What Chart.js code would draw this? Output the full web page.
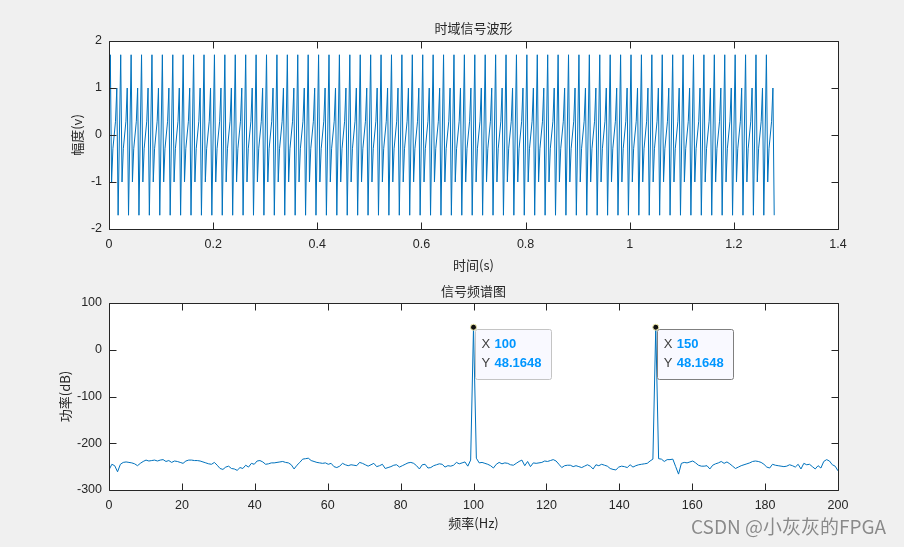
<!DOCTYPE html>
<html>
<head>
<meta charset="utf-8">
<script src="https://cdn.jsdelivr.net/npm/chart.js@4.4.1/dist/chart.umd.min.js"></script>
<style>
  body { margin: 0; background: #f0f0f0; overflow: hidden; }
  #wrap { position: relative; width: 904px; height: 547px; }
  canvas { position: absolute; left: 0; }
  #mark {
    position: absolute; left: 691px; top: 513px;
    font: 19px "Noto Sans CJK SC", sans-serif; color: #8a8a8a;
    text-shadow: 0 0 1px #fff; white-space: nowrap; line-height: 26px;
  }
</style>
</head>
<body>
<div id="wrap">
  <canvas id="tiempo" width="904" height="274" style="top:0"></canvas>
  <canvas id="espectro" width="904" height="273" style="top:274px"></canvas>
  <div id="mark">CSDN @小灰灰的FPGA</div>
</div>
<script>
// datos
const sampleRate = 400;
const sampleCount = 512;
// un periodo (8 muestras = 0.02 s) de la onda, se repite en toda la grafica
const wavePeriod = [0, 1.7071, -1, -0.2929, 0, 0.2929, 1, -1.7071];
const timeTicks = [0, 0.2, 0.4, 0.6, 0.8, 1, 1.2, 1.4];
const ampTicks = [-2, -1, 0, 1, 2];

const freqStep = 400 / 512;
const spectrumDb = [
  -257, -245, -248, -261, -245, -241, -240, -241, -242, -244,
  -248, -243, -239, -236, -238, -237, -236, -238, -236, -235,
  -239, -237, -241, -238, -239, -241, -243, -238, -236, -236,
  -237, -237, -238, -240, -242, -244, -245, -241, -247, -254,
  -256, -251, -249, -254, -255, -258, -252, -254, -247, -251,
  -243, -245, -238, -237, -240, -245, -244, -242, -242, -241,
  -240, -239, -241, -242, -246, -255, -247, -241, -234, -233,
  -232, -237, -239, -241, -242, -243, -242, -245, -243, -250,
  -252, -249, -243, -246, -248, -246, -247, -248, -241, -243,
  -246, -249, -246, -243, -250, -248, -245, -254, -252, -250,
  -247, -246, -251, -248, -245, -242, -241, -243, -248, -255,
  -246, -245, -253, -252, -248, -246, -244, -245, -251, -248,
  -249, -247, -241, -244, -242, -240, -249, -236, 48.1648, -232,
  -242, -241, -243, -245, -248, -253, -245, -241, -244, -242,
  -243, -246, -247, -243, -239, -236, -248, -239, -250, -242,
  -243, -242, -241, -238, -239, -237, -235, -238, -245, -252,
  -248, -247, -247, -250, -248, -250, -252, -249, -246, -249,
  -255, -246, -248, -245, -247, -249, -254, -256, -257, -251,
  -249, -250, -252, -246, -251, -248, -246, -245, -244, -243,
  -238, -234, 48.1648, -233, -234, -239, -235, -235, -234, -250,
  -266, -243, -241, -242, -240, -238, -242, -247, -249, -249,
  -248, -255, -247, -244, -242, -239, -243, -240, -244, -249,
  -254, -251, -248, -246, -244, -242, -239, -238, -239, -241,
  -245, -251, -253, -245, -247, -248, -249, -250, -249, -246,
  -248, -251, -245, -255, -243, -246, -245, -250, -255, -248,
  -253, -239, -235, -238, -246, -249, -259
];
const freqTicks = [0, 20, 40, 60, 80, 100, 120, 140, 160, 180, 200];
const powerTicks = [-300, -200, -100, 0, 100];
const peakFreqs = [100, 150];

const tickFont = { family: '"Liberation Sans", Arial, sans-serif', size: 12.5 };
const labelFont = '13px "Noto Sans CJK SC", sans-serif';
const ink = '#262626';

// marco, ticks hacia dentro y textos como en matlab
const marcoPlugin = {
  id: 'marco',
  beforeDraw(chart) {
    const { ctx, chartArea: a } = chart;
    ctx.save();
    ctx.fillStyle = '#ffffff';
    ctx.fillRect(a.left, a.top, a.right - a.left, a.bottom - a.top);
    ctx.restore();
  },
  afterDraw(chart, args, opts) {
    const { ctx, chartArea: a, scales } = chart;
    const L = a.left + 0.5, R = a.right + 0.5, T = a.top + 0.5, B = a.bottom + 0.5;
    ctx.save();
    ctx.strokeStyle = ink;
    ctx.lineWidth = 1;
    ctx.beginPath();
    scales.x.ticks.forEach(t => {
      const px = Math.round(scales.x.getPixelForValue(t.value)) + 0.5;
      ctx.moveTo(px, B); ctx.lineTo(px, B - 7);
      ctx.moveTo(px, T); ctx.lineTo(px, T + 7);
    });
    scales.y.ticks.forEach(t => {
      const py = Math.round(scales.y.getPixelForValue(t.value)) + 0.5;
      ctx.moveTo(L, py); ctx.lineTo(L + 7, py);
      ctx.moveTo(R, py); ctx.lineTo(R - 7, py);
    });
    ctx.rect(L, T, R - L, B - T);
    ctx.stroke();

    // datatips
    (opts.tips || []).forEach(tip => {
      const px = scales.x.getPixelForValue(tip.x);
      const py = scales.y.getPixelForValue(tip.y);
      const bx = Math.round(px) + 1.5, by = Math.round(py) + 2.5;
      ctx.beginPath();
      ctx.roundRect(bx, by, 76, 50, 2);
      ctx.fillStyle = '#f9f9ff';
      ctx.fill();
      ctx.strokeStyle = tip.border;
      ctx.stroke();

      ctx.beginPath();
      ctx.arc(px, py, 3, 0, Math.PI * 2);
      ctx.fillStyle = '#111';
      ctx.fill();
      ctx.strokeStyle = '#f3eeb0';
      ctx.lineWidth = 1;
      ctx.stroke();

      ctx.textBaseline = 'middle';
      ctx.textAlign = 'left';
      ctx.fillStyle = '#404040';
      ctx.font = '13px "Liberation Sans", Arial, sans-serif';
      ctx.fillText('X', px + 8, py + 17.5);
      ctx.fillText('Y', px + 8, py + 36);
      ctx.fillStyle = '#0096ff';
      ctx.font = 'bold 13px "Liberation Sans", Arial, sans-serif';
      ctx.fillText(String(tip.x), px + 21, py + 17.5);
      ctx.fillText(tip.y.toFixed(4), px + 21, py + 36);
    });

    // titulos
    ctx.fillStyle = ink;
    ctx.font = labelFont;
    ctx.textAlign = 'center';
    ctx.textBaseline = 'middle';
    const cx = (a.left + a.right) / 2;
    ctx.fillText(opts.title, cx, opts.titleY);
    ctx.fillText(opts.xLabel, cx, opts.xLabelY);
    ctx.translate(opts.yLabelX, (a.top + a.bottom) / 2);
    ctx.rotate(-Math.PI / 2);
    ctx.fillText(opts.yLabel, 0, 0);
    ctx.restore();
  }
};

function ejes(xMin, xMax, xTicks, yMin, yMax, yTicks, xHeight) {
  return {
    x: {
      type: 'linear', min: xMin, max: xMax,
      afterBuildTicks: s => { s.ticks = xTicks.map(v => ({ value: v })); },
      afterFit: s => { s.height = xHeight; },
      ticks: { padding: 8, color: ink, font: tickFont, maxRotation: 0, autoSkip: false, callback: v => String(v) },
      grid: { display: false, drawTicks: false },
      border: { display: false }
    },
    y: {
      type: 'linear', min: yMin, max: yMax,
      afterBuildTicks: s => { s.ticks = yTicks.map(v => ({ value: v })); },
      afterFit: s => { s.width = 109; },
      ticks: { padding: 7, color: ink, font: tickFont, autoSkip: false, callback: v => String(v) },
      grid: { display: false, drawTicks: false },
      border: { display: false }
    }
  };
}

// onda en el tiempo
const timeData = [];
for (let n = 0; n < sampleCount; n++) {
  timeData.push({ x: n / sampleRate, y: wavePeriod[n % wavePeriod.length] });
}

new Chart(document.getElementById('tiempo'), {
  type: 'line',
  data: {
    datasets: [{
      data: timeData,
      borderColor: '#0072bd',
      borderWidth: 1,
      pointRadius: 0,
      tension: 0
    }]
  },
  options: {
    responsive: false,
    animation: false,
    layout: { padding: { left: 0, right: 66, top: 41, bottom: 0 } },
    scales: ejes(0, 1.4, timeTicks, -2, 2, ampTicks, 45),
    plugins: {
      legend: { display: false },
      tooltip: { enabled: false },
      marco: { title: '时域信号波形', titleY: 28, xLabel: '时间(s)', xLabelY: 265, yLabel: '幅度(v)', yLabelX: 77 }
    }
  },
  plugins: [marcoPlugin]
});

// espectro
const specData = spectrumDb.map((v, k) => ({ x: k * freqStep, y: v }));
const tips = peakFreqs.map((f, i) => ({
  x: f,
  y: spectrumDb[Math.round(f / freqStep)],
  border: i === 0 ? '#c4c4c4' : '#7f7f7f'
}));

new Chart(document.getElementById('espectro'), {
  type: 'line',
  data: {
    datasets: [{
      data: specData,
      borderColor: '#0072bd',
      borderWidth: 1,
      pointRadius: 0,
      tension: 0
    }]
  },
  options: {
    responsive: false,
    animation: false,
    layout: { padding: { left: 0, right: 66, top: 29, bottom: 0 } },
    scales: ejes(0, 200, freqTicks, -300, 100, powerTicks, 57),
    plugins: {
      legend: { display: false },
      tooltip: { enabled: false },
      marco: { title: '信号频谱图', titleY: 17, xLabel: '频率(Hz)', xLabelY: 249, yLabel: '功率(dB)', yLabelX: 65, tips: tips }
    }
  },
  plugins: [marcoPlugin]
});
</script>
</body>
</html>
